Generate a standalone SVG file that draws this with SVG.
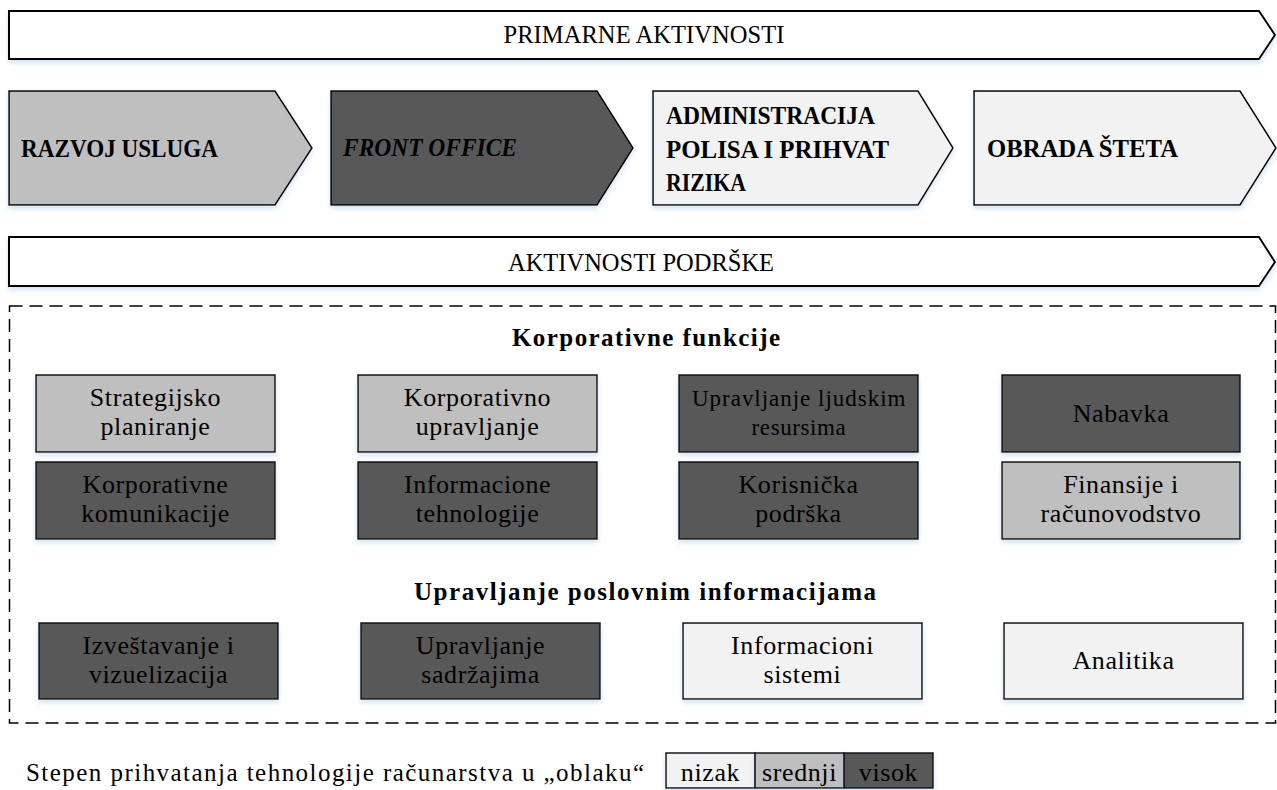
<svg xmlns="http://www.w3.org/2000/svg" width="1277" height="790" viewBox="0 0 1277 790">
  <defs>
    <filter id="glow" x="-5%" y="-20%" width="110%" height="150%">
      <feGaussianBlur in="SourceAlpha" stdDeviation="2.5"/>
      <feOffset dy="3" result="b"/>
      <feFlood flood-color="#9dc3e6" flood-opacity="0.45"/>
      <feComposite in2="b" operator="in"/>
      <feMerge><feMergeNode/><feMergeNode in="SourceGraphic"/></feMerge>
    </filter>
  </defs>
  <style>
    .band { fill: #ffffff; stroke: #000; stroke-width: 2; filter: url(#glow); }
    .chev { stroke: #000; stroke-width: 1.5; filter: url(#glow); }
    .box { stroke: #111; stroke-width: 1.5; filter: url(#glow); }
    .light { fill: #f2f2f2; }
    .mid { fill: #bfbfbf; }
    .dark { fill: #595959; }
    .hdr { font-family: "Liberation Serif", serif; font-size: 24.5px; fill: #000; text-anchor: middle; }
    .clab { font-family: "Liberation Serif", serif; font-size: 25px; font-weight: bold; fill: #000; }
    .sec { font-family: "Liberation Serif", serif; font-size: 25px; font-weight: bold; fill: #000; text-anchor: middle; }
    .bt { font-family: "Liberation Serif", serif; font-size: 26px; letter-spacing: 0.6px; fill: #000; text-anchor: middle; }
    .bts { font-family: "Liberation Serif", serif; font-size: 23px; letter-spacing: 0.6px; fill: #000; text-anchor: middle; }
    .leg { font-family: "Liberation Serif", serif; font-size: 25px; fill: #000; }
  </style>

  <!-- primary activities band -->
  <g id="primarne">
    <path class="band" d="M9,11 H1259 L1275,35 L1259,59 H9 Z"/>
    <text class="hdr" x="644" y="43" textLength="281">PRIMARNE AKTIVNOSTI</text>
  </g>

  <!-- value chain chevrons -->
  <g id="razvoj">
    <path class="chev mid" d="M9,91 H275 L312,148 L275,205 H9 Z"/>
    <text class="clab" x="21" y="157" textLength="197" lengthAdjust="spacingAndGlyphs">RAZVOJ USLUGA</text>
  </g>
  <g id="front-office">
    <path class="chev dark" d="M331,91 H597 L633,148 L597,205 H331 Z"/>
    <text class="clab" x="343" y="156" font-style="italic" textLength="174" lengthAdjust="spacingAndGlyphs">FRONT OFFICE</text>
  </g>
  <g id="administracija">
    <path class="chev light" d="M653,91 H918 L953,148 L918,205 H653 Z"/>
    <text class="clab" x="666" y="124" textLength="209" lengthAdjust="spacingAndGlyphs">ADMINISTRACIJA</text>
    <text class="clab" x="666" y="158" textLength="223" lengthAdjust="spacingAndGlyphs">POLISA I PRIHVAT</text>
    <text class="clab" x="666" y="191" textLength="80" lengthAdjust="spacingAndGlyphs">RIZIKA</text>
  </g>
  <g id="obrada">
    <path class="chev light" d="M974,91 H1240 L1276,148 L1240,205 H974 Z"/>
    <text class="clab" x="987" y="157" textLength="191" lengthAdjust="spacingAndGlyphs">OBRADA ŠTETA</text>
  </g>

  <!-- support activities band -->
  <g id="podrska">
    <path class="band" d="M9,237 H1259 L1275,262 L1259,286 H9 Z"/>
    <text class="hdr" x="641" y="271">AKTIVNOSTI PODRŠKE</text>
  </g>

  <!-- dashed frame around support functions -->
  <g id="okvir">
    <rect x="9.5" y="306" width="1266" height="417" fill="none" stroke="#000" stroke-width="1.5" stroke-dasharray="13 7"/>
    <text class="sec" x="646" y="346" textLength="268">Korporativne funkcije</text>
    <text class="sec" x="645" y="600" textLength="462">Upravljanje poslovnim informacijama</text>
  </g>

  <!-- corporate functions, row 1 -->
  <g id="strategijsko">
    <rect class="box mid" x="36" y="375" width="239" height="77"/>
    <text class="bt" x="155.5" y="406">Strategijsko</text>
    <text class="bt" x="155.5" y="435">planiranje</text>
  </g>
  <g id="korporativno">
    <rect class="box mid" x="358" y="375" width="239" height="77"/>
    <text class="bt" x="477.5" y="406">Korporativno</text>
    <text class="bt" x="477.5" y="435">upravljanje</text>
  </g>
  <g id="ljudski-resursi">
    <rect class="box dark" x="679" y="375" width="239" height="77"/>
    <text class="bts" x="799" y="406" textLength="214">Upravljanje ljudskim</text>
    <text class="bts" x="799" y="435">resursima</text>
  </g>
  <g id="nabavka">
    <rect class="box dark" x="1002" y="375" width="238" height="77"/>
    <text class="bt" x="1121" y="422">Nabavka</text>
  </g>

  <!-- corporate functions, row 2 -->
  <g id="komunikacije">
    <rect class="box dark" x="36" y="462" width="239" height="77"/>
    <text class="bt" x="155.5" y="493">Korporativne</text>
    <text class="bt" x="155.5" y="522">komunikacije</text>
  </g>
  <g id="it">
    <rect class="box dark" x="358" y="462" width="239" height="77"/>
    <text class="bt" x="477.5" y="493">Informacione</text>
    <text class="bt" x="477.5" y="522">tehnologije</text>
  </g>
  <g id="korisnicka">
    <rect class="box dark" x="679" y="462" width="239" height="77"/>
    <text class="bt" x="798.5" y="493">Korisnička</text>
    <text class="bt" x="798.5" y="522">podrška</text>
  </g>
  <g id="finansije">
    <rect class="box mid" x="1002" y="462" width="238" height="77"/>
    <text class="bt" x="1121" y="493">Finansije i</text>
    <text class="bt" x="1121" y="522">računovodstvo</text>
  </g>

  <!-- business information management -->
  <g id="izvestavanje">
    <rect class="box dark" x="39" y="623" width="239" height="76"/>
    <text class="bt" x="158.5" y="654">Izveštavanje i</text>
    <text class="bt" x="158.5" y="683">vizuelizacija</text>
  </g>
  <g id="sadrzaji">
    <rect class="box dark" x="361" y="623" width="239" height="76"/>
    <text class="bt" x="480.5" y="654">Upravljanje</text>
    <text class="bt" x="480.5" y="683">sadržajima</text>
  </g>
  <g id="sistemi">
    <rect class="box light" x="683" y="623" width="239" height="76"/>
    <text class="bt" x="802.5" y="654">Informacioni</text>
    <text class="bt" x="802.5" y="683">sistemi</text>
  </g>
  <g id="analitika">
    <rect class="box light" x="1004" y="623" width="239" height="76"/>
    <text class="bt" x="1123.5" y="669">Analitika</text>
  </g>

  <!-- legend -->
  <g id="legenda">
    <text class="leg" x="26" y="781" textLength="618">Stepen prihvatanja tehnologije računarstva u „oblaku“</text>
    <rect class="box light" x="666" y="753" width="89" height="35"/>
    <rect class="box mid" x="755" y="753" width="89" height="35"/>
    <rect class="box dark" x="844" y="753" width="89" height="35"/>
    <text class="bt" x="710.5" y="781">nizak</text>
    <text class="bt" x="799.5" y="781">srednji</text>
    <text class="bt" x="888.5" y="781">visok</text>
  </g>
</svg>
